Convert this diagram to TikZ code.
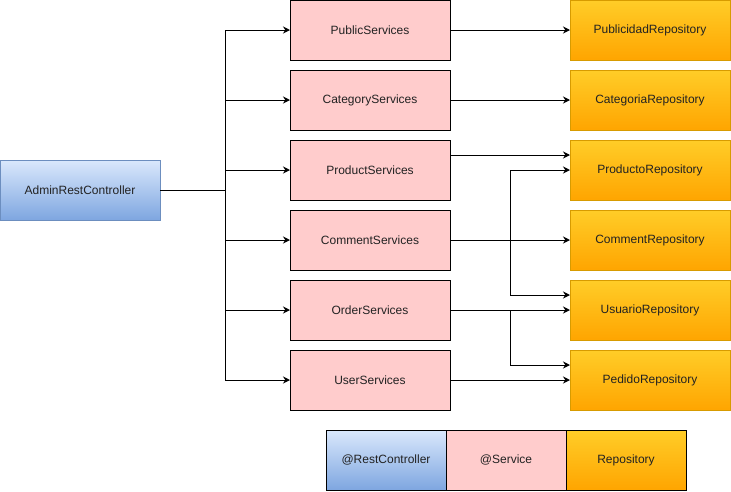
\documentclass[tikz,border=0pt]{standalone}
\usepackage{fontspec}
\setmainfont{Liberation Sans}
\usetikzlibrary{arrows.meta,calc,positioning}
\definecolor{ctrltop}{HTML}{DAE8FC}
\definecolor{ctrlbot}{HTML}{7EA6E0}
\definecolor{ctrledge}{HTML}{6C8EBF}
\definecolor{svcfill}{HTML}{FFCCCC}
\definecolor{repotop}{HTML}{FFCD28}
\definecolor{repobot}{HTML}{FFA500}
\definecolor{repoedge}{HTML}{D79B00}
\definecolor{ink}{HTML}{222222}

\begin{document}
\begin{tikzpicture}[
  x=1pt, y=1pt,
  every node/.style={font=\fontsize{12}{14}\selectfont, text=ink},
  box/.style={minimum width=160pt, minimum height=60pt, outer sep=0pt,
    line width=1pt, inner sep=0pt},
  ctrlbox/.style={box, draw=ctrledge, top color=ctrltop, bottom color=ctrlbot},
  svcbox/.style={box, draw=black, fill=svcfill},
  repobox/.style={box, draw=repoedge, top color=repotop, bottom color=repobot},
  keybox/.style={minimum width=120pt, draw=black},
  arrow/.style={-{Stealth[length=7pt,width=7pt]}, line width=1pt},
  line/.style={line width=1pt}
]
\useasboundingbox (0,0) rectangle (731,-491);

\node[ctrlbox] (ac) at (80,-190) {AdminRestController};

\node[svcbox] (ps) at (370,-30) {PublicServices};
\node[svcbox, below=10pt of ps] (cs) {CategoryServices};
\node[svcbox, below=10pt of cs] (prs) {ProductServices};
\node[svcbox, below=10pt of prs] (cms) {CommentServices};
\node[svcbox, below=10pt of cms] (os) {OrderServices};
\node[svcbox, below=10pt of os] (us) {UserServices};

\node[repobox, right=120pt of ps] (pur) {PublicidadRepository};
\node[repobox, right=120pt of cs] (car) {CategoriaRepository};
\node[repobox, right=120pt of prs] (pdr) {ProductoRepository};
\node[repobox, right=120pt of cms] (cmr) {CommentRepository};
\node[repobox, right=120pt of os] (usr) {UsuarioRepository};
\node[repobox, right=120pt of us] (per) {PedidoRepository};

% controller fans out to every service
\coordinate (split) at ($(ac.east)+(65,0)$);
\draw[line] (ac) -- (split);
\foreach \s in {ps,cs,prs,cms,os,us}
  \draw[arrow] (split) |- (\s);

% services to repositories
\draw[arrow] (ps) -- (pur);
\draw[arrow] (cs) -- (car);
\draw[arrow] ([yshift=15pt]prs.east) -- ([yshift=15pt]pdr.west);
\draw[arrow] (cms) -- (cmr);
\coordinate (jc) at ($(cms.east)!0.5!(cmr.west)$);
\draw[arrow] (jc) |- (pdr);
\draw[arrow] (jc) |- ([yshift=15pt]usr.west);
\draw[arrow] (os) -- (usr);
\coordinate (jo) at ($(os.east)!0.5!(usr.west)$);
\draw[arrow] (jo) |- ([yshift=15pt]per.west);
\draw[arrow] (us) -- (per);

% legend
\node[ctrlbox, keybox] (kc) at (386,-460) {@RestController};
\node[svcbox, keybox, right=0pt of kc] (ks) {@Service};
\node[repobox, keybox, right=0pt of ks] (kr) {Repository};
\end{tikzpicture}
\end{document}
